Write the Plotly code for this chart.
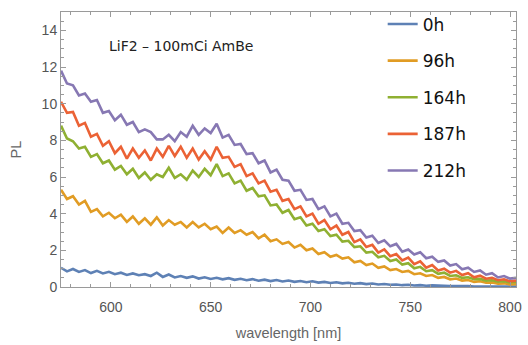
import plotly.graph_objects as go

wavelength = [575, 578, 581, 584, 587, 590, 593, 596, 599, 602, 605, 608, 611, 614, 617, 620,
              623, 626, 629, 632, 635, 638, 641, 644, 647, 650, 653, 656, 659, 662, 665, 668,
              671, 674, 677, 680, 683, 686, 689, 692, 695, 698, 701, 704, 707, 710, 713, 716,
              719, 722, 725, 728, 731, 734, 737, 740, 743, 746, 749, 752, 755, 758, 761, 764,
              767, 770, 773, 776, 779, 782, 785, 788, 791, 794, 797, 800, 803]

pl_0h = [1.05, 0.85, 0.98, 0.82, 0.92, 0.76, 0.88, 0.74, 0.83, 0.7, 0.78, 0.66, 0.74, 0.64, 0.7, 0.6,
         0.78, 0.55, 0.68, 0.52, 0.6, 0.5, 0.58, 0.46, 0.53, 0.44, 0.5, 0.42, 0.48, 0.39, 0.45, 0.37,
         0.43, 0.34, 0.4, 0.32, 0.38, 0.3, 0.35, 0.28, 0.33, 0.26, 0.31, 0.24, 0.28, 0.22, 0.26, 0.2,
         0.23, 0.18, 0.21, 0.16, 0.19, 0.14, 0.16, 0.12, 0.14, 0.1, 0.12, 0.08, 0.1, 0.07, 0.09, 0.06,
         0.07, 0.05, 0.06, 0.04, 0.05, 0.03, 0.04, 0.03, 0.03, 0.02, 0.03, 0.02, 0.02]

pl_96h = [5.3, 4.8, 4.95, 4.5, 4.7, 4.1, 4.25, 3.85, 4.05, 3.75, 3.95, 3.55, 3.85, 3.45, 3.75, 3.4,
          3.8, 3.35, 3.65, 3.4, 3.55, 3.25, 3.55, 3.25, 3.45, 3.15, 3.3, 2.95, 3.25, 2.95, 3.1, 2.85,
          3.0, 2.65, 2.85, 2.5, 2.6, 2.35, 2.45, 2.15, 2.3, 2.0, 2.1, 1.8, 1.9, 1.65, 1.75, 1.55,
          1.62, 1.35, 1.42, 1.2, 1.28, 1.05, 1.12, 0.92, 0.98, 0.82, 0.88, 0.7, 0.75, 0.6, 0.65, 0.5,
          0.55, 0.42, 0.46, 0.35, 0.38, 0.28, 0.31, 0.23, 0.25, 0.18, 0.2, 0.14, 0.15]

pl_164h = [8.8, 8.1, 7.95, 7.55, 7.65, 7.1, 7.25, 6.75, 6.9, 6.4, 6.6, 6.15, 6.45, 5.95, 6.25, 5.85,
           6.15, 6.0, 6.5, 5.95, 6.15, 5.85, 6.35, 6.0, 6.45, 6.1, 6.7, 6.05, 6.2, 5.65, 5.8, 5.25,
           5.4, 4.95, 5.0, 4.45, 4.5, 4.05, 4.2, 3.7, 3.8, 3.35, 3.45, 3.05, 3.15, 2.78, 2.85, 2.48,
           2.52, 2.18, 2.22, 1.88, 1.92, 1.62, 1.7, 1.42, 1.5, 1.22, 1.3, 1.02, 1.1, 0.86, 0.92, 0.72,
           0.78, 0.6, 0.64, 0.5, 0.53, 0.42, 0.44, 0.35, 0.37, 0.29, 0.31, 0.25, 0.27]

pl_187h = [10.1, 9.5, 9.55, 8.8, 8.95, 8.2, 8.35, 7.7, 7.95, 7.3, 7.65, 7.0, 7.55, 7.05, 7.45, 6.9,
           7.55, 7.1, 7.7, 7.15, 7.65, 7.05, 7.55, 6.95, 7.4, 6.95, 7.65, 7.05, 7.1, 6.55, 6.7, 6.05,
           6.2, 5.65, 5.8, 5.2, 5.3, 4.7, 4.8, 4.25, 4.4, 3.85, 4.0, 3.45, 3.65, 3.15, 3.35, 2.85,
           3.0, 2.45, 2.6, 2.18, 2.3, 1.88, 2.05, 1.68, 1.8, 1.45, 1.6, 1.25, 1.4, 1.05, 1.2, 0.9,
           1.0, 0.78, 0.88, 0.65, 0.75, 0.53, 0.62, 0.45, 0.5, 0.37, 0.42, 0.31, 0.35]

pl_212h = [11.8, 11.1, 11.0, 10.45, 10.55, 10.1, 10.2, 9.5, 9.6, 9.1, 9.4, 8.85, 9.0, 8.45, 8.6, 8.45,
           8.05, 8.05, 8.3, 7.95, 8.45, 8.2, 8.8, 8.3, 8.65, 8.4, 8.9, 8.15, 8.3, 7.75, 7.8, 7.25,
           7.3, 6.75, 6.9, 6.25, 6.4, 5.85, 5.8, 5.25, 5.3, 4.75, 4.8, 4.25, 4.4, 3.85, 4.0, 3.45,
           3.5, 3.05, 3.1, 2.7, 2.8, 2.4, 2.55, 2.22, 2.35, 1.92, 2.05, 1.77, 1.9, 1.57, 1.65, 1.37,
           1.45, 1.17, 1.25, 0.97, 1.05, 0.82, 0.9, 0.67, 0.75, 0.52, 0.6, 0.46, 0.5]

series_names = ["0h", "96h", "164h", "187h", "212h"]
series_values = [pl_0h, pl_96h, pl_164h, pl_187h, pl_212h]
colors = ["#5E81B5", "#E19C24", "#8FB032", "#EB6235", "#8778B3"]

fig = go.Figure()
for name, vals, col in zip(series_names, series_values, colors):
    fig.add_trace(go.Scatter(x=wavelength, y=vals, mode="lines", name=name,
                             line=dict(color=col, width=2.6), legendgroup=name))

tick_font = dict(family="Liberation Sans, Arial, sans-serif", size=14, color="#555555")
axis_common = dict(
    showgrid=False, zeroline=False, showline=True, linecolor="#9a9a9a", linewidth=1,
    mirror="allticks", ticks="inside", ticklen=5, tickcolor="#9a9a9a",
    tickfont=tick_font, automargin=False,
)

fig.update_xaxes(range=[575, 803], tickvals=[600, 650, 700, 750, 800],
                 minor=dict(ticks="inside", ticklen=3, dtick=10, tick0=600, tickcolor="#9a9a9a"),
                 ticklabelstandoff=7,
                 title=dict(text="wavelength [nm]",
                            font=dict(family="Liberation Sans, Arial, sans-serif", size=14.5, color="#666666"),
                            standoff=14),
                 **axis_common)
fig.update_yaxes(range=[0, 15], tickvals=[0, 2, 4, 6, 8, 10, 12, 14],
                 minor=dict(ticks="inside", ticklen=3, dtick=0.5, tick0=0, tickcolor="#9a9a9a"),
                 title=dict(text="PL",
                            font=dict(family="Liberation Sans, Arial, sans-serif", size=14.5, color="#666666"),
                            standoff=16),
                 **axis_common)

fig.add_annotation(x=0.101, y=0.875, xref="paper", yref="paper", xanchor="left", yanchor="middle",
                   text="LiF2 – 100mCi AmBe", showarrow=False,
                   font=dict(family="DejaVu Sans, sans-serif", size=14, color="#222222"))

fig.update_layout(
    width=528, height=345,
    margin=dict(l=61, r=12, t=7, b=58),
    paper_bgcolor="white", plot_bgcolor="white",
    font=dict(family="Liberation Sans, Arial, sans-serif"),
    legend=dict(x=0.707, y=1.02, xanchor="left", yanchor="top", bgcolor="rgba(0,0,0,0)",
                font=dict(family="DejaVu Sans, sans-serif", size=17, color="#111111"),
                tracegroupgap=11.5, itemwidth=30, traceorder="grouped", maxheight=340),
)

fig.write_html("out.html", config={"displayModeBar": False},
               post_script="document.body.style.margin='0';document.body.style.overflow='hidden';")
